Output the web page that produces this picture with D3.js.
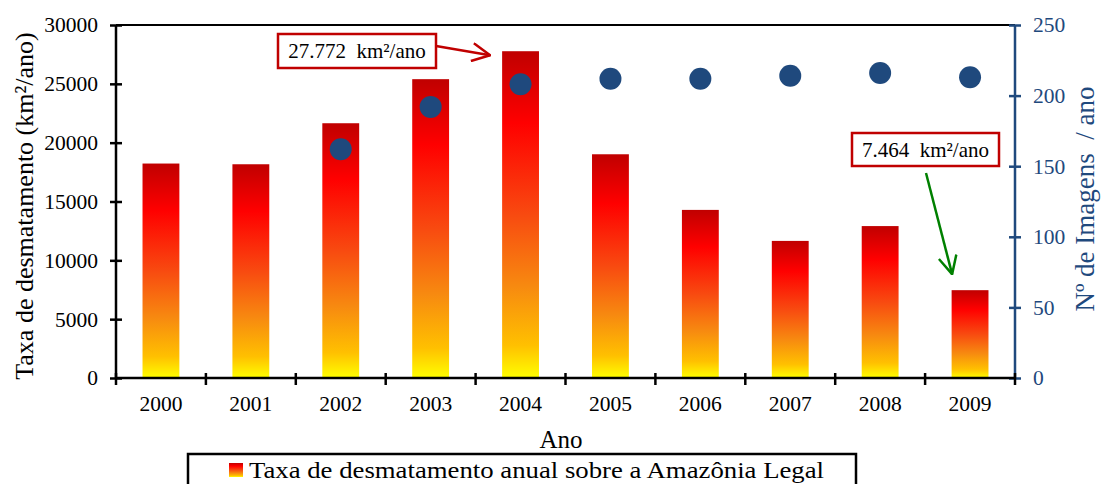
<!DOCTYPE html>
<html>
<head>
<meta charset="utf-8">
<script src="https://cdn.jsdelivr.net/npm/d3@7"></script>
<style>
  html, body { margin: 0; padding: 0; background: #fff; }
  svg { display: block; font-family: "Liberation Serif", "Times New Roman", serif; }
</style>
</head>
<body>
<svg id="chart" width="1102" height="484"></svg>
<script>
// Annual deforestation rate in the Legal Amazon (km²/year)
const years = ["2000", "2001", "2002", "2003", "2004", "2005", "2006", "2007", "2008", "2009"];
const deforestation = [18226, 18165, 21651, 25396, 27772, 19014, 14286, 11651, 12911, 7464];
// Number of satellite images used per year (no count for 2000 and 2001)
const imageYears = ["2002", "2003", "2004", "2005", "2006", "2007", "2008", "2009"];
const imageCounts = [162, 192, 208, 212, 212, 214, 216, 213];
const leftTicks = [0, 5000, 10000, 15000, 20000, 25000, 30000];
const rightTicks = [0, 50, 100, 150, 200, 250];

const svg = d3.select("#chart");
const pLeft = 116, pRight = 1015, pTop = 25, pBottom = 378;
const blue = "#1f497d";
const serif = "Liberation Serif";

const x = d3.scaleBand().domain(years).range([pLeft, pRight]).paddingInner(0.59).paddingOuter(0.295);
const y = d3.scaleLinear().domain([0, 30000]).range([pBottom, pTop]);
const y2 = d3.scaleLinear().domain([0, 250]).range([pBottom, pTop]);

// Vertical gradient for each bar: dark red at top to yellow at base
const defs = svg.append("defs");
const grad = defs.append("linearGradient").attr("id", "barGrad")
  .attr("x1", 0).attr("y1", 0).attr("x2", 0).attr("y2", 1);
[["0%", "#c00000"], ["22%", "#ff0000"], ["50%", "#f84a10"], ["72%", "#f78a10"], ["90%", "#ffc000"], ["100%", "#ffff00"]]
  .forEach(([o, c]) => grad.append("stop").attr("offset", o).attr("stop-color", c));

// Bars
svg.append("g").selectAll("rect").data(years).join("rect")
  .attr("x", d => x(d))
  .attr("width", x.bandwidth())
  .attr("y", (d, i) => y(deforestation[i]))
  .attr("height", (d, i) => pBottom - y(deforestation[i]))
  .attr("fill", "url(#barGrad)");

// Image count dots
svg.append("g").selectAll("circle").data(imageYears).join("circle")
  .attr("cx", d => x(d) + x.bandwidth() / 2)
  .attr("cy", (d, i) => y2(imageCounts[i]))
  .attr("r", 11)
  .attr("fill", blue);

// Top frame line
svg.append("line").attr("x1", pLeft).attr("x2", pRight).attr("y1", pTop).attr("y2", pTop)
  .attr("stroke", "#000").attr("stroke-width", 2);

// Left axis
const gl = svg.append("g").attr("transform", `translate(${pLeft},0)`)
  .call(d3.axisLeft(y).tickValues(leftTicks).tickSize(6).tickPadding(12).tickFormat(d3.format("d")));
gl.attr("font-family", serif);
gl.select(".domain").attr("stroke-width", 2.5).attr("d", `M0,${pTop}V${pBottom}`);
gl.selectAll(".tick line").attr("x1", -6).attr("x2", 6).attr("stroke-width", 2.5);
gl.selectAll("text").attr("font-size", 21.5).attr("fill", "#000");

// Right axis
const gr = svg.append("g").attr("transform", `translate(${pRight},0)`)
  .call(d3.axisRight(y2).tickValues(rightTicks).tickSize(6).tickPadding(12));
gr.attr("font-family", serif);
gr.select(".domain").attr("stroke", blue).attr("stroke-width", 2.5).attr("d", `M0,${pTop}V${pBottom}`);
gr.selectAll(".tick line").attr("x1", -6).attr("x2", 6).attr("stroke", blue).attr("stroke-width", 2.5);
gr.selectAll("text").attr("font-size", 21.5).attr("fill", blue);

// Bottom axis: ticks at category boundaries
const gb = svg.append("g").attr("transform", `translate(0,${pBottom})`)
  .call(d3.axisBottom(x).tickSize(0).tickPadding(18));
gb.attr("font-family", serif);
gb.select(".domain").attr("stroke-width", 2.5).attr("d", `M${pLeft},0H${pRight}`);
gb.selectAll("text").attr("font-size", 21.5).attr("fill", "#000");
const step = x.step();
svg.append("g").selectAll("line").data(d3.range(years.length + 1)).join("line")
  .attr("x1", i => pLeft + i * step).attr("x2", i => pLeft + i * step)
  .attr("y1", pBottom - 5).attr("y2", pBottom + 7)
  .attr("stroke", "#000").attr("stroke-width", 2.5);

// Axis titles
svg.append("text").attr("transform", `translate(33,206) rotate(-90)`)
  .attr("text-anchor", "middle").attr("font-size", 26).text("Taxa de desmatamento (km²/ano)");
svg.append("text").attr("transform", `translate(1094,199) rotate(-90)`)
  .attr("text-anchor", "middle").attr("font-size", 27).attr("fill", blue)
  .attr("xml:space", "preserve").text("Nº de Imagens  / ano");
svg.append("text").attr("x", 561).attr("y", 448)
  .attr("text-anchor", "middle").attr("font-size", 25).text("Ano");

// Callout boxes
function callout(label, bx, by, bw, bh) {
  svg.append("rect").attr("x", bx).attr("y", by).attr("width", bw).attr("height", bh)
    .attr("fill", "#fff").attr("stroke", "#c00000").attr("stroke-width", 2.5);
  svg.append("text").attr("x", bx + bw / 2).attr("y", by + bh / 2 + 7)
    .attr("text-anchor", "middle").attr("font-size", 21).attr("xml:space", "preserve").text(label);
}
const mk = (id, color) => defs.append("marker").attr("id", id).attr("viewBox", "0 0 20 20")
  .attr("refX", 19).attr("refY", 10).attr("markerWidth", 20).attr("markerHeight", 20)
  .attr("markerUnits", "userSpaceOnUse").attr("orient", "auto")
  .append("path").attr("d", "M1,1L19,10L1,19").attr("fill", "none").attr("stroke", color)
  .attr("stroke-width", 2.5).attr("stroke-linejoin", "miter");
mk("arrRed", "#c00000");
mk("arrGreen", "#008000");
const ptBR = v => d3.format(",")(v).replace(",", ".");

const i04 = years.indexOf("2004");
callout(ptBR(deforestation[i04]) + "  km²/ano", 278, 34, 158, 34);
svg.append("line").attr("x1", 436).attr("y1", 46)
  .attr("x2", x("2004") - 12).attr("y2", y(deforestation[i04]) + 4)
  .attr("stroke", "#c00000").attr("stroke-width", 2.5).attr("marker-end", "url(#arrRed)");

const i09 = years.indexOf("2009");
callout(ptBR(deforestation[i09]) + "  km²/ano", 852, 133, 147, 33);
svg.append("line").attr("x1", 926).attr("y1", 173)
  .attr("x2", x("2009") + 0.5).attr("y2", y(deforestation[i09]) - 16)
  .attr("stroke", "#008000").attr("stroke-width", 2.5).attr("marker-end", "url(#arrGreen)");

// Legend
svg.append("rect").attr("x", 188).attr("y", 454).attr("width", 668).attr("height", 40)
  .attr("fill", "#fff").attr("stroke", "#000").attr("stroke-width", 2.5);
svg.append("rect").attr("x", 229).attr("y", 463).attr("width", 14).attr("height", 14).attr("fill", "url(#barGrad)");
svg.append("text").attr("x", 249).attr("y", 478).attr("font-size", 23.5)
  .attr("textLength", 575).attr("lengthAdjust", "spacingAndGlyphs")
  .text("Taxa de desmatamento anual sobre a Amazônia Legal");
</script>
</body>
</html>
